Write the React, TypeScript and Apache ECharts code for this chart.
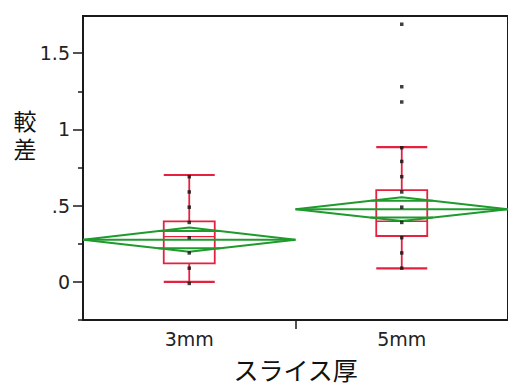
import React, { useEffect, useRef } from "react";
import * as echarts from "echarts";

const categories = ["3mm", "5mm"];
const means = [0.277, 0.477];
const ciHalf = [0.08, 0.078];
const q1 = [0.121, 0.301];
const medians = [0.297, 0.398];
const q3 = [0.397, 0.602];
const whiskerLow = [0.0, 0.088];
const whiskerHigh = [0.701, 0.884];
const points3mm = [0.69, 0.59, 0.49, 0.39, 0.29, 0.19, 0.09, -0.01];
const points5mm = [1.69, 1.28, 1.18, 0.88, 0.79, 0.69, 0.59, 0.49, 0.39, 0.29, 0.19, 0.09];
const yMajorTicks = [0, 0.5, 1, 1.5];
const yMinorTicks = [-0.25, 0.25, 0.75, 1.25];
const yTitleChars = ["較", "差"];

const RED = "#e5213f";
const GREEN = "#1f9a2c";
const AXIS = "#1a1a1a";
const FONT = "DejaVu Sans";

export default function App() {
  const ref = useRef<HTMLDivElement>(null);
  useEffect(() => {
    const chart = echarts.init(ref.current!, undefined, { renderer: "svg" });
    const groupData = categories.map((_, i) => [
      i,
      means[i],
      ciHalf[i],
      q1[i],
      medians[i],
      q3[i],
      whiskerLow[i],
      whiskerHigh[i],
    ]);
    const pointData: number[][] = [];
    points3mm.forEach((v) => pointData.push([0.5, v]));
    points5mm.forEach((v) => pointData.push([1.5, v]));

    const renderItem = (params: any, api: any) => {
      const i = api.value(0);
      const mean = api.value(1);
      const ci = api.value(2);
      const a = api.value(3);
      const med = api.value(4);
      const b = api.value(5);
      const wl = api.value(6);
      const wh = api.value(7);
      const band = api.size([1, 0])[0];
      const bw = band * 0.12;
      const c = api.coord([i + 0.5, mean]);
      const cx = c[0];
      const left = api.coord([i, mean]);
      const right = api.coord([i + 1, mean]);
      const top = api.coord([i + 0.5, mean + ci]);
      const bot = api.coord([i + 0.5, mean - ci]);
      const yA = api.coord([i + 0.5, a])[1];
      const yB = api.coord([i + 0.5, b])[1];
      const yMed = api.coord([i + 0.5, med])[1];
      const yWl = api.coord([i + 0.5, wl])[1];
      const yWh = api.coord([i + 0.5, wh])[1];
      const d = ci / Math.SQRT2;
      const yOu = api.coord([i + 0.5, mean + d])[1];
      const yOl = api.coord([i + 0.5, mean - d])[1];
      const half = (right[0] - left[0]) / 2;
      const ow = half * (1 - 1 / Math.SQRT2);
      const rs = { stroke: RED, lineWidth: 1.8, fill: "none" };
      const gs = { stroke: GREEN, lineWidth: 2, fill: "none" };
      return {
        type: "group",
        children: [
          { type: "rect", shape: { x: cx - bw, y: yB, width: bw * 2, height: yA - yB }, style: rs },
          { type: "line", shape: { x1: cx - bw, y1: yMed, x2: cx + bw, y2: yMed }, style: { ...rs, lineWidth: 1.4 } },
          { type: "line", shape: { x1: cx, y1: yB, x2: cx, y2: yWh }, style: rs },
          { type: "line", shape: { x1: cx, y1: yA, x2: cx, y2: yWl }, style: rs },
          { type: "line", shape: { x1: cx - bw, y1: yWh, x2: cx + bw, y2: yWh }, style: { ...rs, lineWidth: 2.2 } },
          { type: "line", shape: { x1: cx - bw, y1: yWl, x2: cx + bw, y2: yWl }, style: { ...rs, lineWidth: 2.2 } },
          {
            type: "polygon",
            shape: { points: [left, top, right, bot] },
            style: gs,
          },
          { type: "line", shape: { x1: left[0], y1: left[1], x2: right[0], y2: right[1] }, style: gs },
          { type: "line", shape: { x1: cx - ow, y1: yOu, x2: cx + ow, y2: yOu }, style: gs },
          { type: "line", shape: { x1: cx - ow, y1: yOl, x2: cx + ow, y2: yOl }, style: gs },
        ],
      };
    };

    chart.setOption({
      animation: false,
      grid: {
        left: 83,
        right: -7,
        top: 16,
        bottom: 61,
        show: true,
        borderColor: AXIS,
        borderWidth: 2,
        backgroundColor: "transparent",
      },
      xAxis: {
        type: "value",
        min: 0,
        max: 2,
        name: "スライス厚",
        nameLocation: "middle",
        nameGap: 36,
        nameTextStyle: { fontFamily: "Noto Sans CJK JP", fontSize: 25, color: "#111" },
        axisLine: { show: true, onZero: false, lineStyle: { color: AXIS, width: 2 } },
        axisTick: { show: true, customValues: [1], length: 9, lineStyle: { color: AXIS, width: 1.5 } },
        axisLabel: {
          customValues: [0.5, 1.5],
          formatter: (v: number) => categories[Math.round(v - 0.5)],
          fontFamily: FONT,
          fontSize: 19,
          color: "#222",
          margin: 10,
        },
        splitLine: { show: false },
      },
      yAxis: [
        {
          type: "value",
          min: -0.25,
          max: 1.744,
          axisLine: { show: true, onZero: false, lineStyle: { color: AXIS, width: 2 } },
          axisTick: { show: true, customValues: yMajorTicks, length: 10, lineStyle: { color: AXIS, width: 1.5 } },
          axisLabel: {
            customValues: yMajorTicks,
            formatter: (v: number) => (v === 0.5 ? ".5" : String(v)),
            fontFamily: FONT,
            fontSize: 19,
            color: "#222",
            margin: 13,
          },
          splitLine: { show: false },
        },
        {
          type: "value",
          min: -0.25,
          max: 1.744,
          position: "left",
          axisLine: { show: false },
          axisTick: { show: true, customValues: yMinorTicks, length: 5, lineStyle: { color: AXIS, width: 1.5 } },
          axisLabel: { show: false },
          splitLine: { show: false },
        },
      ],
      graphic: yTitleChars.map((ch, k) => ({
        type: "text",
        x: 25,
        y: 122 + k * 28,
        style: {
          text: ch,
          align: "center",
          verticalAlign: "middle",
          font: '23px "DejaVu Sans", "Noto Sans CJK JP"',
          lineHeight: 24,
          fill: "#111",
        },
      })),
      series: [
        {
          type: "custom",
          renderItem,
          data: groupData,
          clip: true,
          z: 2,
        },
        {
          type: "scatter",
          data: pointData,
          symbol: "rect",
          symbolSize: 3.5,
          itemStyle: { color: "#111" },
          z: 5,
        },
      ],
    });
    return () => chart.dispose();
  }, []);
  return <div ref={ref} style={{ width: 508, height: 386, position: "absolute", left: 0, top: 0 }} />;
}
